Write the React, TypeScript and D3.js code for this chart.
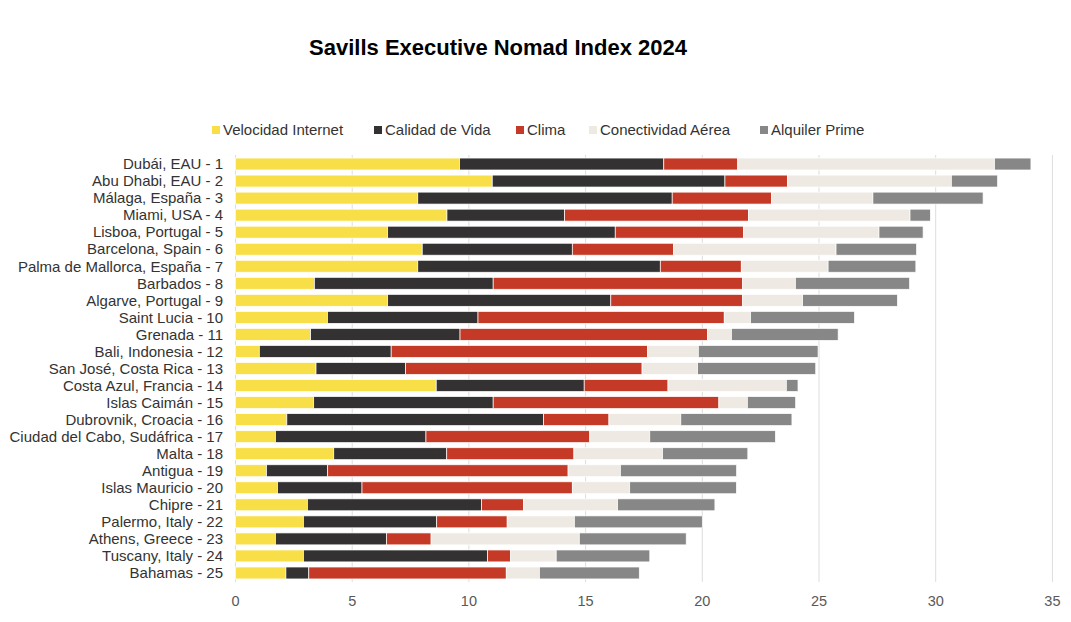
import React from "react";
import * as d3 from "d3";

const categories = [
  "Dubái, EAU - 1", "Abu Dhabi, EAU - 2", "Málaga, España - 3", "Miami, USA - 4",
  "Lisboa, Portugal - 5", "Barcelona, Spain - 6", "Palma de Mallorca, España - 7",
  "Barbados - 8", "Algarve, Portugal - 9", "Saint Lucia - 10", "Grenada - 11",
  "Bali, Indonesia - 12", "San José, Costa Rica - 13", "Costa Azul, Francia - 14",
  "Islas Caimán - 15", "Dubrovnik, Croacia - 16", "Ciudad del Cabo, Sudáfrica - 17",
  "Malta - 18", "Antigua - 19", "Islas Mauricio - 20", "Chipre - 21",
  "Palermo, Italy - 22", "Athens, Greece - 23", "Tuscany, Italy - 24", "Bahamas - 25",
];

const seriesNames = ["Velocidad Internet", "Calidad de Vida", "Clima", "Conectividad Aérea", "Alquiler Prime"];

const velocidadInternet = [9.6, 11.0, 7.81, 9.06, 6.52, 8.0, 7.81, 3.38, 6.52, 3.94, 3.22, 1.02, 3.45, 8.6, 3.35, 2.2, 1.71, 4.21, 1.33, 1.8, 3.08, 2.91, 1.71, 2.91, 2.16];
const calidadDeVida = [8.75, 9.97, 10.9, 5.04, 9.75, 6.43, 10.39, 7.66, 9.56, 6.45, 6.4, 5.65, 3.84, 6.34, 7.69, 11.0, 6.45, 4.84, 2.62, 3.62, 7.46, 5.71, 4.76, 7.89, 0.98];
const clima = [3.17, 2.68, 4.25, 7.88, 5.49, 4.34, 3.47, 10.69, 5.65, 10.55, 10.61, 10.99, 10.13, 3.59, 9.67, 2.8, 7.02, 5.45, 10.3, 9.01, 1.8, 3.02, 1.91, 0.99, 8.46];
const conectividadAerea = [11.0, 7.02, 4.35, 6.92, 5.81, 6.96, 3.72, 2.26, 2.57, 1.13, 1.02, 2.17, 2.38, 5.07, 1.22, 3.08, 2.57, 3.8, 2.24, 2.46, 4.03, 2.88, 6.35, 1.95, 1.42];
const alquilerPrime = [1.56, 1.98, 4.72, 0.87, 1.89, 3.45, 3.76, 4.89, 4.06, 4.45, 4.57, 5.13, 5.06, 0.5, 2.07, 4.76, 5.38, 3.65, 4.98, 4.57, 4.17, 5.48, 4.58, 4.01, 4.28];

const xTicks = [0, 5, 10, 15, 20, 25, 30, 35];

const colors = ["#F9DF47", "#333132", "#C53A26", "#EEEAE3", "#878787"];

export default function App() {
  const W = 1071, H = 622;
  const x = d3.scaleLinear().domain([0, 35]).range([235.5, 1052.4]);
  const y = d3.scaleBand<string>().domain(categories).range([155.5, 581.5]).paddingInner(0.3).paddingOuter(0.15);

  const seriesArrays = [velocidadInternet, calidadDeVida, clima, conectividadAerea, alquilerPrime];
  const table = categories.map((c, i) => {
    const row: any = { cat: c };
    seriesNames.forEach((s, k) => (row[s] = seriesArrays[k][i]));
    return row;
  });
  const stacked = d3.stack<any>().keys(seriesNames)(table);

  const legendX = [212, 374, 516, 589, 760];
  const font = "'Liberation Sans', Arial, sans-serif";

  return (
    <svg width={W} height={H} style={{ position: "absolute", left: 0, top: 0, background: "#fff" }}>
      <text x={498} y={55} textAnchor="middle" fontFamily={font} fontWeight="bold" fontSize={22} fill="#000">
        Savills Executive Nomad Index 2024
      </text>
      {seriesNames.map((s, k) => (
        <g key={s}>
          <rect x={legendX[k]} y={126} width={8} height={8} fill={colors[k]} />
          <text x={legendX[k] + 11} y={135} fontFamily={font} fontSize={15} textLength={undefined} fill="#333">{s}</text>
        </g>
      ))}
      {xTicks.map((t) => (
        <g key={t}>
          <line x1={x(t)} x2={x(t)} y1={155} y2={582} stroke="#DDDDDD" strokeWidth={1} />
          <text x={x(t)} y={606} textAnchor="middle" fontFamily={font} fontSize={14.5} fill="#595959">{t}</text>
        </g>
      ))}
      {stacked.map((layer, k) => (
        <g key={layer.key} fill={colors[k]}>
          {layer.map((d, i) => (
            <rect key={i} x={x(d[0])} y={y(categories[i])} width={Math.max(0, x(d[1]) - x(d[0]))}
              height={y.bandwidth()} stroke="#fff" strokeWidth={0.7} />
          ))}
        </g>
      ))}
      {categories.map((c) => (
        <text key={c} x={223} y={(y(c) as number) + y.bandwidth() / 2} dy="0.35em" textAnchor="end"
          fontFamily={font} fontSize={15} fill="#333">{c}</text>
      ))}
    </svg>
  );
}
